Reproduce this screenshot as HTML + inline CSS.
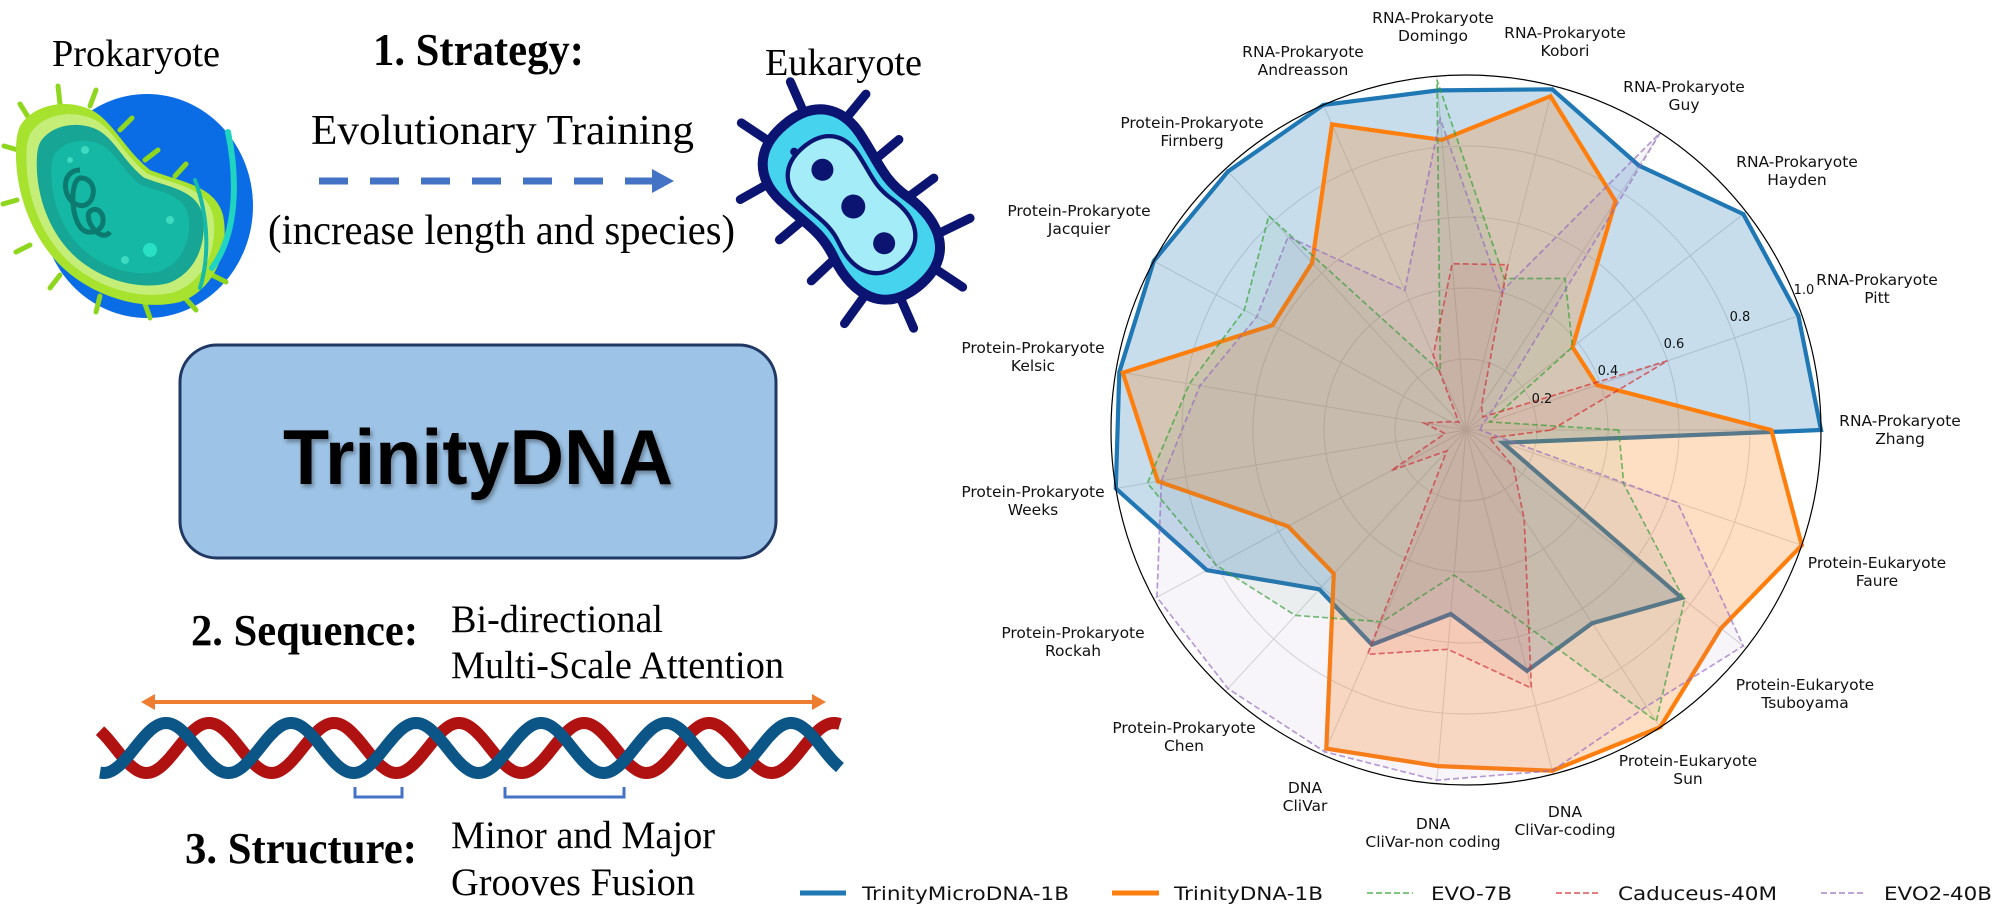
<!DOCTYPE html>
<html><head><meta charset="utf-8">
<style>
html,body{margin:0;padding:0;background:#fff;}
svg{display:block;}
.ser{font-family:"Liberation Serif","DejaVu Serif",serif;fill:#000;}
.ax{font-family:"DejaVu Sans","Liberation Sans",sans-serif;font-size:15.5px;fill:#111;}
.tk{font-family:"DejaVu Sans","Liberation Sans",sans-serif;font-size:13px;fill:#111;}
.lg{font-family:"DejaVu Sans","Liberation Sans",sans-serif;font-size:19px;fill:#111;}
</style></head>
<body>
<svg id="s" width="2002" height="922" viewBox="0 0 2002 922" xmlns="http://www.w3.org/2000/svg">
<defs>
<filter id="sh" x="-5%" y="-5%" width="110%" height="120%"><feDropShadow dx="2" dy="3" stdDeviation="2" flood-color="#000" flood-opacity="0.35"/></filter>
</defs>
<!-- Prokaryote -->
<ellipse cx="147" cy="206" rx="106" ry="112" fill="#0b6de6"/>
<g stroke="#8fd61e" stroke-width="5" stroke-linecap="round">
<line x1="30" y1="120" x2="20" y2="104"/><line x1="60" y1="104" x2="58" y2="86"/><line x1="90" y1="106" x2="96" y2="90"/>
<line x1="120" y1="130" x2="132" y2="118"/><line x1="145" y1="160" x2="158" y2="150"/><line x1="175" y1="176" x2="186" y2="164"/>
<line x1="18" y1="150" x2="4" y2="146"/><line x1="17" y1="200" x2="3" y2="204"/><line x1="30" y1="245" x2="16" y2="252"/>
<line x1="60" y1="275" x2="50" y2="288"/><line x1="100" y1="296" x2="96" y2="312"/><line x1="145" y1="304" x2="150" y2="318"/>
<line x1="185" y1="298" x2="196" y2="310"/><line x1="212" y1="275" x2="226" y2="282"/>
</g>
<path d="M22,123 C40,100 75,100 95,112 C115,125 125,150 150,170 C180,182 215,185 223,215 C230,250 215,290 180,302 C140,312 90,295 60,265 C30,235 15,190 16,150 C16,138 18,128 22,123 Z" fill="#a6e22e"/>
<path d="M22,123 C40,100 75,100 95,112 C115,125 125,150 150,170 C180,182 215,185 223,215 C230,250 215,290 180,302 C140,312 90,295 60,265 C30,235 15,190 16,150 C16,138 18,128 22,123 Z" fill="#c4ee78" transform="translate(120,205) scale(0.9) translate(-120,-205)"/>
<path d="M22,123 C40,100 75,100 95,112 C115,125 125,150 150,170 C180,182 215,185 223,215 C230,250 215,290 180,302 C140,312 90,295 60,265 C30,235 15,190 16,150 C16,138 18,128 22,123 Z" fill="#17a596" transform="translate(120,208) scale(0.8) translate(-120,-208)"/>
<path d="M22,123 C40,100 75,100 95,112 C115,125 125,150 150,170 C180,182 215,185 223,215 C230,250 215,290 180,302 C140,312 90,295 60,265 C30,235 15,190 16,150 C16,138 18,128 22,123 Z" fill="#14b8a4" transform="translate(120,212) scale(0.66) translate(-120,-212)"/>
<g fill="none" stroke="#0c7a6e" stroke-width="5">
<path d="M80,170 C60,170 62,200 78,205 C95,210 100,180 82,178 C68,176 70,230 88,232 C110,234 105,205 92,210 C80,215 100,245 110,232"/>
</g>
<circle cx="85" cy="150" r="4" fill="#3fd9c0"/><circle cx="70" cy="160" r="3" fill="#3fd9c0"/><circle cx="150" cy="250" r="7" fill="#2ae0c4"/><circle cx="170" cy="220" r="4" fill="#3fd9c0"/><circle cx="125" cy="260" r="4" fill="#3fd9c0"/>
<path d="M228,132 C236,170 240,230 212,268" fill="none" stroke="#1fd4c0" stroke-width="6" stroke-linecap="round"/>
<path d="M195,180 C208,215 210,255 200,288" fill="none" stroke="#17b9a8" stroke-width="4" stroke-linecap="round"/>

<!-- Eukaryote -->
<g transform="translate(852,205) rotate(-40)">
<g stroke="#0b1470" stroke-width="9" stroke-linecap="round">
<line x1="-50" y1="-70" x2="-82" y2="-76"/><line x1="-44" y1="-20" x2="-78" y2="-20"/><line x1="-46" y1="30" x2="-80" y2="32"/><line x1="-50" y1="78" x2="-82" y2="86"/>
<line x1="50" y1="-70" x2="82" y2="-76"/><line x1="44" y1="-20" x2="78" y2="-20"/><line x1="46" y1="30" x2="80" y2="32"/><line x1="50" y1="78" x2="82" y2="86"/>
<line x1="-22" y1="-100" x2="-32" y2="-134"/><line x1="22" y1="-100" x2="32" y2="-134"/>
<line x1="-22" y1="100" x2="-32" y2="134"/><line x1="22" y1="100" x2="32" y2="134"/>
</g>
<path d="M0,-105 C40,-105 55,-80 52,-50 C48,-15 40,0 48,30 C58,70 45,105 0,105 C-45,105 -58,70 -48,30 C-40,0 -48,-15 -52,-50 C-55,-80 -40,-105 0,-105Z" fill="#46d3ee" stroke="#0b1470" stroke-width="10"/>
<path d="M0,-105 C40,-105 55,-80 52,-50 C48,-15 40,0 48,30 C58,70 45,105 0,105 C-45,105 -58,70 -48,30 C-40,0 -48,-15 -52,-50 C-55,-80 -40,-105 0,-105Z" fill="#a4ecf8" stroke="#0b1470" stroke-width="6" transform="scale(0.72)"/>
<circle cx="0" cy="-46" r="11" fill="#0b1470"/><circle cx="0" cy="2" r="12" fill="#0b1470"/><circle cx="0" cy="50" r="11" fill="#0b1470"/>
<circle cx="-10" cy="-78" r="4" fill="#0b1470"/>
</g>

<!-- Left texts -->
<text class="ser" x="52" y="66" font-size="38" textLength="168" lengthAdjust="spacingAndGlyphs">Prokaryote</text>
<text class="ser" x="373" y="65" font-size="45" font-weight="bold" textLength="211" lengthAdjust="spacingAndGlyphs">1. Strategy:</text>
<text class="ser" x="765" y="75" font-size="38" textLength="157" lengthAdjust="spacingAndGlyphs">Eukaryote</text>
<text class="ser" x="311" y="144" font-size="42" textLength="383" lengthAdjust="spacingAndGlyphs">Evolutionary Training</text>
<text class="ser" x="268" y="244" font-size="42" textLength="467" lengthAdjust="spacingAndGlyphs">(increase length and species)</text>
<line x1="319" y1="181" x2="655" y2="181" stroke="#4472c4" stroke-width="7" stroke-dasharray="29,22"/>
<polygon points="652,169 674,181 652,193" fill="#4472c4"/>

<rect x="180" y="345" width="596" height="213" rx="37" fill="#9dc3e6" stroke="#1f3864" stroke-width="3"/>
<text x="478" y="484" font-family="Liberation Sans, Arial, sans-serif" font-weight="bold" font-size="78" text-anchor="middle" textLength="390" lengthAdjust="spacingAndGlyphs" filter="url(#sh)">TrinityDNA</text>

<text class="ser" x="191" y="645" font-size="44" font-weight="bold" textLength="227" lengthAdjust="spacingAndGlyphs">2. Sequence:</text>
<text class="ser" x="451" y="632" font-size="39" textLength="212" lengthAdjust="spacingAndGlyphs">Bi-directional</text>
<text class="ser" x="451" y="678" font-size="39" textLength="333" lengthAdjust="spacingAndGlyphs">Multi-Scale Attention</text>
<line x1="150" y1="702" x2="817" y2="702" stroke="#ed7d31" stroke-width="4"/>
<polygon points="141,702 155,694 155,710" fill="#ed7d31"/>
<polygon points="826,702 812,694 812,710" fill="#ed7d31"/>
<g id="helix"></g>
<path d="M355,787 L355,797 L402,797 L402,787" fill="none" stroke="#4472c4" stroke-width="3"/>
<path d="M505,787 L505,797 L624,797 L624,787" fill="none" stroke="#4472c4" stroke-width="3"/>
<text class="ser" x="185" y="863" font-size="44" font-weight="bold" textLength="232" lengthAdjust="spacingAndGlyphs">3. Structure:</text>
<text class="ser" x="451" y="848" font-size="39" textLength="264" lengthAdjust="spacingAndGlyphs">Minor and Major</text>
<text class="ser" x="451" y="895" font-size="39" textLength="244" lengthAdjust="spacingAndGlyphs">Grooves Fusion</text>

<!-- Radar -->
<g id="grid"></g>
<g id="radar"></g>
<circle cx="1466" cy="430" r="355" fill="none" stroke="#000" stroke-width="1.2"/>
<g class="tk">
<text x="1542" y="403" text-anchor="middle">0.2</text>
<text x="1608" y="375" text-anchor="middle">0.4</text>
<text x="1674" y="348" text-anchor="middle">0.6</text>
<text x="1740" y="321" text-anchor="middle">0.8</text>
<text x="1804" y="294" text-anchor="middle">1.0</text>
</g>
<g class="ax" text-anchor="middle">
<text x="1900" y="426">RNA-Prokaryote</text><text x="1900" y="444">Zhang</text>
<text x="1877" y="285">RNA-Prokaryote</text><text x="1877" y="303">Pitt</text>
<text x="1797" y="167">RNA-Prokaryote</text><text x="1797" y="185">Hayden</text>
<text x="1684" y="92">RNA-Prokaryote</text><text x="1684" y="110">Guy</text>
<text x="1565" y="38">RNA-Prokaryote</text><text x="1565" y="56">Kobori</text>
<text x="1433" y="23">RNA-Prokaryote</text><text x="1433" y="41">Domingo</text>
<text x="1303" y="57">RNA-Prokaryote</text><text x="1303" y="75">Andreasson</text>
<text x="1192" y="128">Protein-Prokaryote</text><text x="1192" y="146">Firnberg</text>
<text x="1079" y="216">Protein-Prokaryote</text><text x="1079" y="234">Jacquier</text>
<text x="1033" y="353">Protein-Prokaryote</text><text x="1033" y="371">Kelsic</text>
<text x="1033" y="497">Protein-Prokaryote</text><text x="1033" y="515">Weeks</text>
<text x="1073" y="638">Protein-Prokaryote</text><text x="1073" y="656">Rockah</text>
<text x="1184" y="733">Protein-Prokaryote</text><text x="1184" y="751">Chen</text>
<text x="1305" y="793">DNA</text><text x="1305" y="811">CliVar</text>
<text x="1433" y="829">DNA</text><text x="1433" y="847">CliVar-non coding</text>
<text x="1565" y="817">DNA</text><text x="1565" y="835">CliVar-coding</text>
<text x="1688" y="766">Protein-Eukaryote</text><text x="1688" y="784">Sun</text>
<text x="1805" y="690">Protein-Eukaryote</text><text x="1805" y="708">Tsuboyama</text>
<text x="1877" y="568">Protein-Eukaryote</text><text x="1877" y="586">Faure</text>
</g>

<!-- Legend -->
<line x1="800" y1="893" x2="846" y2="893" stroke="#1f77b4" stroke-width="5"/>
<text class="lg" x="862" y="900" textLength="207" lengthAdjust="spacingAndGlyphs">TrinityMicroDNA-1B</text>
<line x1="1112" y1="893" x2="1159" y2="893" stroke="#ff7f0e" stroke-width="5"/>
<text class="lg" x="1174" y="900" textLength="149" lengthAdjust="spacingAndGlyphs">TrinityDNA-1B</text>
<line x1="1367" y1="893" x2="1413" y2="893" stroke="#2ca02c" stroke-opacity="0.6" stroke-width="2" stroke-dasharray="6,3"/>
<text class="lg" x="1431" y="900" textLength="81" lengthAdjust="spacingAndGlyphs">EVO-7B</text>
<line x1="1556" y1="893" x2="1600" y2="893" stroke="#d62728" stroke-opacity="0.6" stroke-width="2" stroke-dasharray="6,3"/>
<text class="lg" x="1618" y="900" textLength="159" lengthAdjust="spacingAndGlyphs">Caduceus-40M</text>
<line x1="1821" y1="893" x2="1866" y2="893" stroke="#9467bd" stroke-opacity="0.6" stroke-width="2" stroke-dasharray="6,3"/>
<text class="lg" x="1884" y="900" textLength="108" lengthAdjust="spacingAndGlyphs">EVO2-40B</text>
</svg>
<script>
(function(){
var NS="http://www.w3.org/2000/svg";
function el(t,a,p){var e=document.createElementNS(NS,t);for(var k in a)e.setAttribute(k,a[k]);p.appendChild(e);return e;}
var h=document.getElementById('helix');
function wave(x0,col){var d="";for(var x=100;x<=841;x+=2){var y=748-25*Math.cos(2*Math.PI*(x-x0)/125);d+=(x==100?"M":"L")+x+","+y.toFixed(1);}
el('path',{d:d,fill:'none',stroke:col,'stroke-width':12},h);}
wave(209,'#b01212');wave(166,'#0c5687');
var cx=1466,cy=430,R=355,N=19;
var g=document.getElementById('grid');
[0.2,0.4,0.6,0.8].forEach(function(r){el('circle',{cx:cx,cy:cy,r:r*R,fill:'none',stroke:'#d8d8d8','stroke-width':1},g);});
for(var k=0;k<N;k++){var a=2*Math.PI*k/N;el('line',{x1:cx,y1:cy,x2:cx+R*Math.cos(a),y2:cy-R*Math.sin(a),stroke:'#d8d8d8','stroke-width':1},g);}
var S=[
{v:[1.0,0.99,0.99,0.89,0.99,0.96,1.0,0.99,1.0,0.99,1.0,0.83,0.61,0.66,0.52,0.70,0.65,0.77,0.11],c:'#1f77b4',fo:0.25,w:4.2,d:null,so:1},
{v:[0.86,0.39,0.38,0.77,0.97,0.82,0.94,0.64,0.62,0.98,0.88,0.57,0.55,0.98,0.95,0.99,1.0,0.91,1.0],c:'#ff7f0e',fo:0.25,w:4.2,d:null,so:1},
{v:[0.43,0.07,0.38,0.51,0.44,0.99,0.18,0.82,0.71,0.79,0.91,0.80,0.71,0.59,0.41,0.54,0.98,0.78,0.47],c:'#2ca02c',fo:0.06,w:1.7,d:'6,3',so:0.65},
{v:[0.24,0.60,0.06,0.08,0.48,0.47,0.23,0.03,0.05,0.12,0.06,0.24,0.08,0.69,0.62,0.75,0.30,0.17,0.07],c:'#d62728',fo:0.06,w:1.7,d:'6,3',so:0.65},
{v:[0.04,0.05,0.10,1.0,0.40,0.88,0.43,0.74,0.67,0.76,0.87,0.99,0.99,0.99,0.99,0.99,0.93,0.99,0.63],c:'#9467bd',fo:0.07,w:1.7,d:'6,3',so:0.65}
];
var rg=document.getElementById('radar');
S.forEach(function(s){var pts=[];for(var k=0;k<N;k++){var a=2*Math.PI*k/N;pts.push((cx+s.v[k]*R*Math.cos(a)).toFixed(1)+","+(cy-s.v[k]*R*Math.sin(a)).toFixed(1));}
el('polygon',{points:pts.join(' '),fill:s.c,'fill-opacity':s.fo,stroke:'none'},rg);
var at={points:pts.join(' '),fill:'none',stroke:s.c,'stroke-width':s.w,'stroke-opacity':s.so,'stroke-linejoin':'miter'};if(s.d)at['stroke-dasharray']=s.d;
el('polygon',at,rg);});
})();
</script>
</body></html>
